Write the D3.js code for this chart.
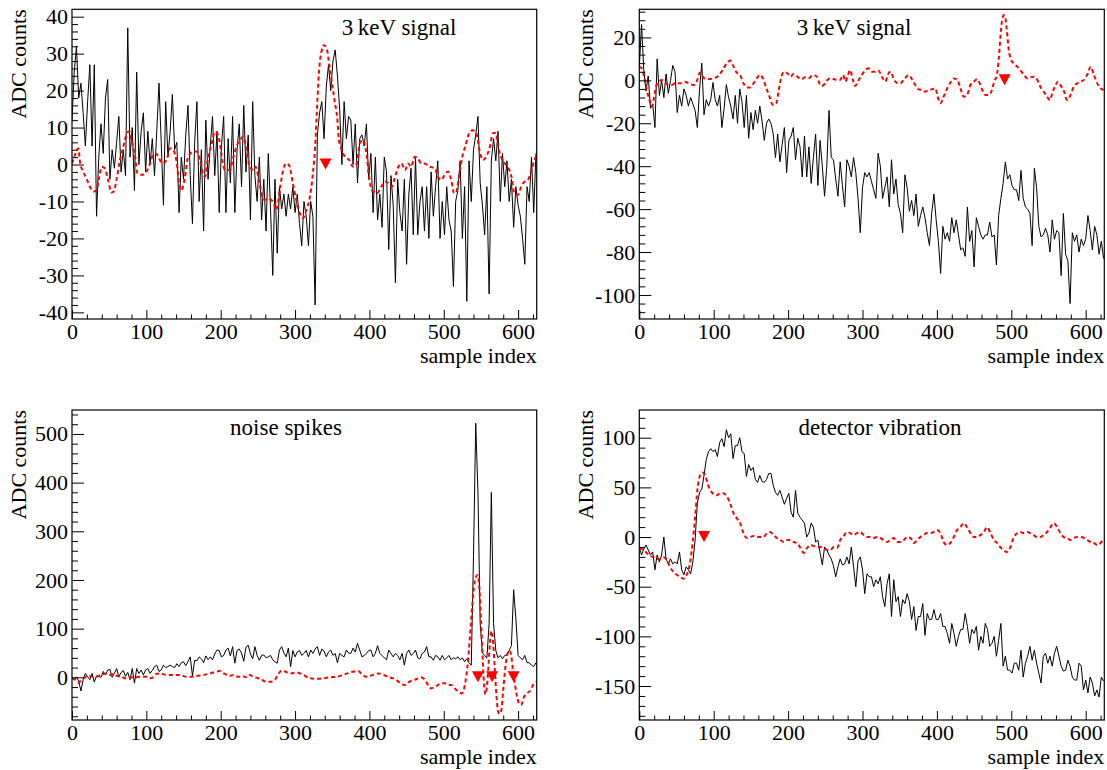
<!DOCTYPE html>
<html><head><meta charset="utf-8">
<script src="https://cdn.jsdelivr.net/npm/d3@7"></script>
<style>
body{margin:0;background:#fff}
svg{display:block}
text{font-family:"Liberation Serif","Times New Roman",Times,serif;fill:#000}
</style>
</head><body>
<svg id="c" width="1107" height="770"></svg>
<script>
// ---------- DATA ----------
const SAMPLE_STEP = 3;           // black traces: one value every 3 samples (0..624)
const xTickMajor = [0,100,200,300,400,500,600];

// Panel titles
const titles = ["3\u2009keV signal", "3\u2009keV signal", "noise spikes", "detector vibration"];
const xTitle = "sample index";
const yTitle = "ADC counts";

// Black traces (ADC counts)
const p1Black = [12,25,32,18,22,14,5,17,27,5,27,-14,2,11,3,18,23,-4,4,-1,6,13,-2,4,-3,37,2,10,-7,25,0,9,14,-2,9,0,7,-3,9,22,6,-11,17,2,9,19,4,6,-13,2,-4,8,16,-3,-16,6,17,-10,4,-18,12,-4,5,13,-3,9,-13,5,13,-13,7,-5,13,-13,4,11,-6,16,-2,8,-15,17,-3,-10,2,-15,-4,-18,3,-12,-30,-4,-24,-6,-12,-8,-14,
-8,-12,-6,-13,-8,-16,-22,-10,-14,-22,-10,-14,-38,8,14,17,7,21,27,20,28,31,24,15,0,17,7,13,12,0,11,-5,7,8,5,11,-4,3,-13,2,-15,-8,-17,2,-2,-23,-3,-11,-32,-4,-13,-18,-4,-27,-8,-1,-19,2,-19,-10,-6,-18,-6,-20,-2,-14,-6,1,-20,-10,-19,-6,-15,-18,-33,-10,-7,1,-20,-6,-37,1,-10,4,8,13,-5,-11,-19,-6,-35,1,7,1,9,-10,3,-6,1,-10,-4,-17,-6,-11,-14,-20,-27,-6,-10,2,-13,3];
const p2Black = [6,26,5,-5,2,-13,-11,-22,10,-7,0,-8,3,-6,0,7,4,-15,-7,-12,-4,-7,-12,-8,-11,-14,-22,-4,8,-16,-9,-12,-9,-1,-9,-12,-7,-22,-13,-2,-8,-12,-18,-7,-20,-4,-10,-22,-7,-27,-15,-23,-14,-20,-12,-19,-28,-20,-18,-20,-25,-36,-25,-38,-30,-22,-43,-28,-26,-22,-37,-27,-31,-45,-26,-45,-31,-48,-36,-25,-49,-28,-40,-54,-40,-14,-36,-37,-46,-54,-38,-49,-59,-37,
-40,-45,-36,-43,-55,-71,-50,-43,-45,-43,-47,-51,-55,-34,-40,-55,-50,-45,-59,-37,-53,-46,-58,-62,-71,-44,-50,-61,-56,-63,-53,-68,-63,-59,-64,-71,-77,-62,-53,-65,-75,-90,-68,-74,-71,-75,-64,-71,-65,-72,-79,-78,-82,-59,-75,-70,-87,-64,-68,-72,-74,-72,-72,-66,-73,-72,-86,-63,-55,-48,-38,-46,-44,-49,-51,-51,-56,-42,-55,-59,-60,-62,-77,-41,-50,-68,-73,-72,-69,-72,-80,-65,-74,-70,-71,-91,-62,-81,-84,-104,-71,-75,-72,-80,-74,-77,-74,-63,-70,-79,-68,-72,-81,-75,-83];
const p3Black = [1,-5,1,-8,-28,-5,8,1,-5,8,-10,3,3,0,12,5,15,16,0,8,18,1,10,14,2,10,-5,18,-12,18,8,15,5,15,18,8,14,22,25,12,15,25,20,22,25,22,20,28,22,30,32,24,32,42,3,35,34,42,38,30,44,36,42,36,48,56,55,42,45,56,60,44,63,29,55,58,50,33,62,66,48,38,63,45,35,45,46,40,42,45,36,32,29,56,63,50,42,60,22,55,42,52,55,
45,49,55,42,56,49,58,63,45,58,54,42,52,56,45,49,30,49,45,42,56,50,49,60,52,70,56,42,45,49,55,56,42,49,65,49,45,40,36,56,49,42,49,45,36,49,25,49,56,45,49,56,40,38,49,52,63,42,42,35,45,42,35,45,36,40,45,36,40,38,42,36,40,32,38,30,25,250,522,380,110,50,45,40,110,380,110,55,40,45,38,45,46,55,65,180,120,45,40,36,45,30,30,25,22,30];
const p4Black = [-10,-18,-12,-8,-13,-18,-15,-33,-18,-25,-18,0,-22,-27,-22,-27,-25,-27,-15,-33,-38,-30,-33,-37,-25,-3,34,45,48,62,78,86,89,86,88,81,95,99,91,108,100,104,79,92,92,100,86,84,61,73,67,70,58,55,62,56,55,58,64,64,52,45,42,47,40,33,39,44,25,20,47,24,20,17,14,0,4,14,10,-5,-3,-16,-28,-10,-13,-18,-22,-29,-40,-30,-22,-28,-27,-20,
-27,-10,-30,-50,-24,-20,-33,-57,-37,-40,-40,-50,-43,-47,-40,-60,-70,-47,-37,-80,-43,-65,-60,-80,-63,-67,-57,-65,-83,-70,-94,-80,-80,-67,-99,-77,-83,-83,-73,-83,-83,-77,-90,-90,-97,-107,-87,-97,-110,-100,-93,-93,-77,-90,-107,-93,-97,-90,-114,-100,-107,-87,-93,-110,-107,-100,-120,-104,-87,-130,-120,-134,-134,-137,-127,-127,-134,-114,-141,-127,-120,-110,-124,-114,-127,-137,-147,-120,-117,-127,-120,-130,-117,-110,-120,-130,-135,-134,-124,-130,-141,-144,-144,-127,-130,-154,-144,-157,-141,-147,-160,-154,-161,-141,-145];

// Red dashed traces: [sample, value]
const p1Red = [[0,0.3],[4,2.6],[8.5,4.4],[11,0.3],[14,-1.5],[20,-4],[24,-6],[29,-7.3],[33,-7],[36,-4],[40,-0.6],[44,-1],[49,-4.6],[53,-7.6],[56,-7.3],[60,-4],[64,0.8],[69,4.8],[73,8],[77,9],[80,6.6],[85,2],[88,-2.4],[94,-2.8],[100,-2],[105,0.3],[109,2.6],[113,3],[117,1.7],[122,0.3],[127,1.2],[132,4.4],[136,4],[141,0.3],[144,-5],[147,-7],[152,-3.3],[156,2],[163,3.5],[168,3.5],[172,1.2],[176,-2.4],[179,-3.3],[183,2],[188,5.7],[192,8.9],[195,8.5],[199,5.7],[202,1.2],[206,-1.5],[212,-1.5],[217,2],[221,4.8],[226,6.6],[230,7.5],[235,3.9],[239,-0.6],[244,-1.5],[247,-0.6],[252,-5],[256,-8.7],[259,-9.6],[264,-9.2],[268,-9.6],[273,-11.4],[275,-12.3],[280,-6],[284,-1.5],[288,0.3],[292,-0.2],[297,-5],[302,-10],[306,-13],[311,-14.5],[315,-12.3],[320,-8.7],[324,-2.4],[327,4.8],[329,13],[332,24.6],[336,31],[339,32.3],[343,31],[346,27],[349,22.9],[353,17.4],[357,12],[359,6.6],[362,4.4],[367,2.1],[373,1.2],[378,-0.6],[383,0.3],[387,5.7],[391,6.6],[396,3],[400,-4.2],[405,-7.3],[410,-7.8],[416,-6],[421,-4.6],[425,-5],[430,-6],[434,-3.7],[439,-0.6],[443,0.3],[448,-1.5],[452,0.3],[456,-0.6],[461,2.1],[465,1.7],[470,0.3],[474,0.3],[481,-0.6],[488,-1],[492,-3.3],[497,-4.2],[501,-2.8],[506,-1.9],[510,-4.2],[514,-7.8],[517,-7.3],[521,-2.4],[525,2.1],[530,5.7],[534,8.4],[539,9.3],[544,8.4],[548,3.9],[553,1.2],[557,2.1],[562,4.8],[566,8.4],[570,8.6],[573,5],[577,2.1],[582,0.3],[586,-0.6],[591,-3.3],[595,-7.8],[600,-8.2],[604,-6],[609,-4.6],[613,-4.2],[618,-1.5],[622,1.2],[624,2.1]];
const p2Red = [[0,6.4],[3,5.6],[6,2.5],[10,-4.5],[13.5,-9],[16.6,-12.3],[19.7,-8.4],[23,-2.2],[27,-0.6],[30,0.2],[34.5,-1],[39,-2.2],[43.5,-2.2],[48,-1.4],[55,-1.4],[61,-0.6],[68,-1.7],[73,-2.2],[77,-0.6],[81.6,3.6],[84,2.5],[87,1],[93,0.6],[100,1],[106,2],[112,4.8],[117.5,7.9],[122,9.2],[125.6,7.2],[130,4],[135.5,2.5],[140,-1.4],[144.6,-3.3],[149,-3.3],[153.5,-1.4],[158,1],[162.5,2.5],[166,1],[170.7,-3.7],[175,-7.6],[179.5,-11.5],[184,-10.7],[187.5,-4.5],[191,1.7],[194.8,4],[199,3.3],[203.6,1.7],[207,3],[212.5,1.7],[218,0.5],[222.7,1.4],[227,0.9],[234,2.5],[238.6,1.7],[244,-2.6],[247.6,-2.2],[252,-0.2],[256.6,1],[262,0.5],[266,0.2],[270,0.2],[274,2.5],[277,-0.6],[280,2],[283.5,4.8],[287,0.2],[290,-2.6],[295,0.2],[299,2.5],[304,4.8],[308,5.6],[312.7,4],[317,4],[321.7,4.5],[326,1.7],[330.6,-0.6],[335,3.3],[338,4],[342,0.5],[346,-1.1],[351,-1.4],[355,0.2],[359,1.7],[362,2.5],[367,0.2],[371,-2.2],[375.5,-4.2],[380,-4.5],[384.5,-5.3],[389,-4.5],[393,-4.2],[398,-3.7],[401,-7.6],[404.7,-10.7],[409,-7.6],[414,-3.7],[418,-1.1],[422.6,0.9],[427,0.5],[431.6,-3.7],[436,-7.6],[440.5,-6.8],[445,-2.2],[449.6,-0.6],[454,0.5],[457.6,-1.4],[461,-4.5],[465,-6.8],[470,-6.8],[474,-4.5],[477,-0.6],[480.6,2.5],[483,9.5],[485.4,20.3],[487.6,28],[490,30.4],[492,29],[494,23.4],[496.6,14.1],[499,10.2],[503,7.9],[508,6.4],[512,4.8],[517,2.5],[521.5,0.9],[526,1.4],[530,1.7],[535,0.2],[539,-3],[543.6,-5.3],[548,-7.6],[552,-9.2],[555,-6],[559.5,-2.2],[562.6,-0.6],[566,-2.2],[571,-5.3],[575,-9.2],[579.6,-6.8],[584,-2.9],[588.6,-1.4],[593,-0.6],[597.6,0.2],[603,3.3],[606.6,6.4],[611,2.5],[615.5,-1.4],[620,-3.7],[624,-4.5]];
const p3Red = [[0,-2],[4,-5],[8.5,-11],[13,-5],[17.5,0],[22,3],[29,1],[33,1],[38,5],[42,7],[47,8],[51.5,5],[56,7],[60,3],[67,1],[72,-2],[76,-2],[80,0],[85,0],[91.5,1],[100,1],[105,-2],[109,0],[113,7],[118,8],[127,5],[136,5],[145,5],[154,1],[161,1],[168,3],[177,5],[186,8],[195,12],[199,13],[204,8],[208,5],[212.5,3],[217,5],[224,1],[228,3],[235,0],[239,5],[244,1],[250.5,-2],[255,-5],[261.6,-9],[268,-9],[273,-5],[277.5,7],[282,14],[286.5,12],[293,8],[302,10],[311,5],[320,-2],[329,-3],[338,-2],[347,0],[356,1],[364.7,5],[373.6,10],[380,12],[385,13],[389,8],[396,1],[405,5],[412,8],[418.5,5],[427,0],[436,-5],[443,-14],[447.6,-16],[452,-11],[456.5,-7],[463,-4],[469.5,0],[474,-4],[479,-16],[483,-23],[488,-19],[492,-16],[497,-12],[501,-12],[506,-16],[510,-16],[515,-23],[519,-29],[524,-33],[527,-25],[530,0],[533,40],[536,100],[539,160],[542,200],[545.5,210],[548,180],[550,120],[552,50],[554,-10],[556,-35],[558,-20],[560,20],[562,70],[564,95],[566,80],[568.5,20],[571,-40],[573,-70],[575,-75],[577.5,-67],[580,-26],[582,8],[584,35],[586.5,52],[588.7,55],[591,42],[593,15],[595.5,-12],[597.7,-33],[601,-53],[604,-57],[608,-40],[612,-33],[617,-26],[620,-16],[624,-9]];
const p4Red = [[0,-11],[5.4,-13],[10,-16],[14.4,-19],[18.8,-20],[23.3,-22],[27.8,-22],[32.3,-20],[36.8,-23],[41.3,-30],[45.8,-35],[50.2,-38],[54.7,-40],[59.2,-42],[63.7,-38],[68,-27],[71.8,-5],[75,20],[78,47],[81.6,62],[85,65],[88.3,62],[90.6,57],[94,49],[98.7,44],[104,42],[108.6,44],[113,44],[117.5,41],[122,34],[126.6,24],[131,19],[135.5,14],[140,4],[144.6,-1],[149,0],[153.5,1],[158,0],[162.5,0],[167,0],[171.6,4],[176,5],[180.6,2],[185,-1],[189.6,-3],[194,-5],[198.6,-3],[203,-3],[207.6,-5],[212,-6],[216.6,-11],[221,-16],[225.6,-11],[230,-8],[234.5,-9],[239,-10],[243.6,-10],[248,-11],[252.6,-13],[257,-13],[261.5,-10],[266,-11],[270,-3],[274.6,1],[279,5],[283.5,4],[288,2],[292.5,4],[297,5],[301.5,2],[306,0],[310.5,0],[315,-1],[319.5,0],[324,-1],[328.5,-3],[333,-5],[337.6,-3],[342,-1],[346.6,-5],[351,-5],[355.6,-3],[360,0],[364.6,-1],[369,-6],[373.6,-3],[377.7,0],[382,2],[386.7,4],[391,4],[395.6,5],[400,7],[404.7,4],[409,-5],[413.6,-8],[418,-6],[422.6,0],[427,7],[431.6,10],[436,14],[440.5,10],[445,4],[449.6,0],[454,0],[458.5,2],[463,5],[467.6,10],[472,4],[476.6,-3],[481,-6],[485,-10],[489.6,-13],[494,-15],[499,-10],[503,-1],[508,4],[512,5],[516.6,4],[521,5],[525.6,4],[530,2],[535,0],[539,0],[543.6,2],[548,5],[552.6,10],[557,14],[561.6,10],[566,4],[570.6,0],[575,-1],[579.6,-3],[584,-1],[588.6,0],[593,0],[597.6,-1],[602,-3],[606.6,-5],[611,-6],[615.5,-8],[620,-6],[624,-1]];

// Trigger markers (sample index, drawn at 0 counts)
const p1Markers = [341];
const p2Markers = [491];
const p3Markers = [546, 565, 594];
const p4Markers = [87];

// Y axis tick settings per panel
const yMajorTicks = [[-40,-30,-20,-10,0,10,20,30,40],[-100,-80,-60,-40,-20,0,20],[0,100,200,300,400,500],[-150,-100,-50,0,50,100]];
const yMinorStep = [2, 4, 20, 10];
const yDomains = [[-41.8,42.0],[-111.2,33.1],[-87.7,549.2],[-184.2,127.9]];

// ---------- LAYOUT ----------
const FONT = "'Liberation Serif','Times New Roman',Times,serif";
const frames = [
  {x0:72,   x1:536.7,  y0:9.3, y1:319, tx:399, ty:35},
  {x0:639.3,x1:1104.3, y0:9.3, y1:319, tx:854, ty:35},
  {x0:72,   x1:536.7,  y0:410, y1:720, tx:286, ty:435},
  {x0:639.3,x1:1104.3, y0:410, y1:720, tx:880, ty:435}
];
const blacks = [p1Black,p2Black,p3Black,p4Black];
const reds = [p1Red,p2Red,p3Red,p4Red];
const markers = [p1Markers,p2Markers,p3Markers,p4Markers];

const svg = d3.select("#c");
const fmt = d => String(d);

frames.forEach((f,k) => {
  const x = d3.scaleLinear().domain([0,625]).range([f.x0,f.x1]);
  const y = d3.scaleLinear().domain(yDomains[k]).range([f.y1,f.y0]);
  const g = svg.append("g");

  const cid = "clip"+k;
  svg.append("clipPath").attr("id",cid).append("rect")
    .attr("x",f.x0).attr("y",f.y0).attr("width",f.x1-f.x0).attr("height",f.y1-f.y0);

  // black trace
  const line = d3.line().x((d,i)=>x(i*SAMPLE_STEP)).y(d=>y(d)).curve(d3.curveLinear);
  g.append("path").datum(blacks[k]).attr("clip-path",`url(#${cid})`)
    .attr("d",line).attr("fill","none").attr("stroke","#000").attr("stroke-width",1)
    .attr("stroke-linejoin","miter");

  // red dashed
  const rline = d3.line().x(d=>x(d[0])).y(d=>y(d[1])).curve(d3.curveMonotoneX);
  g.append("path").datum(reds[k]).attr("clip-path",`url(#${cid})`)
    .attr("d",rline).attr("fill","none").attr("stroke","#ff0000")
    .attr("stroke-width",2).attr("stroke-dasharray","4,3");

  // markers
  g.selectAll("path.mk").data(markers[k]).enter().append("path").attr("class","mk")
    .attr("transform",d=>`translate(${x(d)},${y(0)})`)
    .attr("d","M-6,-6L6,-6L0,5Z").attr("fill","#ff0000");

  // axes: x
  const xMinor = d3.range(0,625,20).filter(v=>v%100!==0);
  const ax = g.append("g").attr("transform",`translate(0,${f.y1})`)
    .call(d3.axisBottom(x).tickValues(xTickMajor).tickFormat(fmt).tickSizeInner(-9).tickSizeOuter(0).tickPadding(4));
  const axm = g.append("g").attr("transform",`translate(0,${f.y1})`)
    .call(d3.axisBottom(x).tickValues(xMinor).tickFormat("").tickSizeInner(-4.5).tickSizeOuter(0));
  // axes: y
  const dom = yDomains[k], ms = yMinorStep[k];
  const yMinor = d3.range(Math.ceil(dom[0]/ms)*ms, dom[1], ms).filter(v=>!yMajorTicks[k].includes(v));
  const ay = g.append("g").attr("transform",`translate(${f.x0},0)`)
    .call(d3.axisLeft(y).tickValues(yMajorTicks[k]).tickFormat(fmt).tickSizeInner(-12).tickSizeOuter(0).tickPadding(4));
  const aym = g.append("g").attr("transform",`translate(${f.x0},0)`)
    .call(d3.axisLeft(y).tickValues(yMinor).tickFormat("").tickSizeInner(-6).tickSizeOuter(0));
  [ax,axm,ay,aym].forEach(a=>{
    a.select(".domain").remove();
    a.attr("font-family",FONT).attr("font-size",22);
    a.selectAll("line").attr("stroke","#000").attr("stroke-width",1);
    a.selectAll("text").attr("font-family",FONT).attr("font-size",22).attr("fill","#000");
  });

  // frame
  g.append("rect").attr("x",f.x0).attr("y",f.y0).attr("width",f.x1-f.x0).attr("height",f.y1-f.y0)
    .attr("fill","none").attr("stroke","#000").attr("stroke-width",1.2);

  // titles
  g.append("text").attr("x",f.tx).attr("y",f.ty).attr("text-anchor","middle")
    .attr("font-family",FONT).attr("font-size",23).text(titles[k]);
  g.append("text").attr("x",f.x1).attr("y",f.y1+44).attr("text-anchor","end")
    .attr("font-family",FONT).attr("font-size",22).text(xTitle);
  g.append("text").attr("transform",`translate(${f.x0-46},${f.y0}) rotate(-90)`)
    .attr("text-anchor","end").attr("font-family",FONT).attr("font-size",22).text(yTitle);
});
</script>
</body></html>
